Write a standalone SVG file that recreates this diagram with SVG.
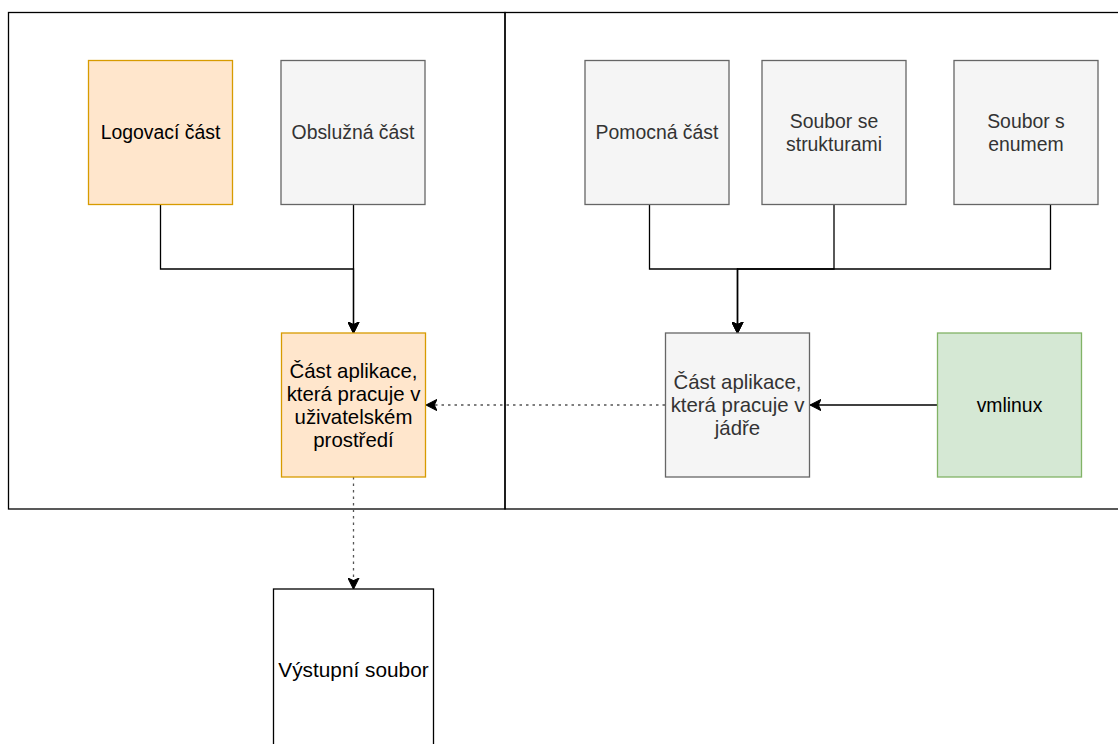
<svg xmlns="http://www.w3.org/2000/svg" width="1118" height="744" viewBox="0 0 1118 744">
  <defs>
    <marker id="arrow" markerUnits="userSpaceOnUse" markerWidth="12" markerHeight="12" viewBox="0 0 11 11" refX="10.5" refY="5.5" orient="auto">
      <path d="M0.5,0.5 L10.5,5.5 L0.5,10.5 L3,5.5 Z" fill="#000" stroke="#000" stroke-width="1"/>
    </marker>
  </defs>
  <style>
    .frame { fill: none; stroke: #000; stroke-width: 1.3; }
    .box { stroke-width: 1.3; }
    .orange { fill: #ffe6cc; stroke: #d79b00; }
    .gray { fill: #f5f5f5; stroke: #666666; }
    .green { fill: #d5e8d4; stroke: #82b366; }
    .plain { fill: #ffffff; stroke: #000000; }
    text { font-family: "Liberation Sans", Arial, Helvetica, sans-serif; font-size: 19.4px; text-anchor: middle; }
    .multi { font-size: 20.4px; }
    .wide { font-size: 20.8px; }
    .dark { fill: #000; }
    .muted { fill: #333333; }
    .edge { fill: none; stroke: #000; stroke-width: 1.3; marker-end: url(#arrow); }
    .dotted { fill: none; stroke: #555; stroke-width: 1.3; stroke-dasharray: 2.5 4; marker-end: url(#arrow); }
  </style>

  <!-- user-space and kernel-space frames -->
  <g id="frames">
    <rect class="frame" x="8.5" y="12.5" width="496.5" height="496.5"/>
    <rect class="frame" x="505" y="12.5" width="700" height="496.5"/>
  </g>

  <!-- connectors -->
  <g id="connectors">
    <path class="edge" d="M160.5,204.5 V269 H353.5 V333"/>
    <path class="edge" d="M353.5,204.5 V333"/>
    <path class="edge" d="M649.5,204.5 V269 H737.5 V333"/>
    <path class="edge" d="M834,204.5 V269 H737.5 V333"/>
    <path class="edge" d="M1050.5,204.5 V269 H737.5 V333"/>
    <path class="edge" d="M937,405 H810"/>
    <path class="dotted" d="M665,405 H426"/>
    <path class="dotted" d="M353.5,477 V589"/>
  </g>

  <g id="logging">
    <rect class="box orange" x="88.5" y="60.5" width="144" height="144"/>
    <text class="dark" x="160.5" y="139.3">Logovací část</text>
  </g>

  <g id="service">
    <rect class="box gray" x="281" y="60.5" width="144" height="144"/>
    <text class="muted" x="353" y="139.3">Obslužná část</text>
  </g>

  <g id="helper">
    <rect class="box gray" x="585" y="60.5" width="144" height="144"/>
    <text class="muted" x="657" y="139.3">Pomocná část</text>
  </g>

  <g id="structs">
    <rect class="box gray" x="762" y="60.5" width="144" height="144"/>
    <text class="muted" x="834" y="127.8">Soubor se</text>
    <text class="muted" x="834" y="150.8">strukturami</text>
  </g>

  <g id="enums">
    <rect class="box gray" x="954" y="60.5" width="144" height="144"/>
    <text class="muted" x="1026" y="127.8">Soubor s</text>
    <text class="muted" x="1026" y="150.8">enumem</text>
  </g>

  <g id="userspace">
    <rect class="box orange" x="281.5" y="333" width="144" height="144"/>
    <text class="dark multi" x="353.5" y="377.5">Část aplikace,</text>
    <text class="dark multi" x="353.5" y="400.5">která pracuje v</text>
    <text class="dark multi" x="353.5" y="423.5">uživatelském</text>
    <text class="dark multi" x="353.5" y="446.5">prostředí</text>
  </g>

  <g id="kernel">
    <rect class="box gray" x="665.5" y="333" width="144" height="144"/>
    <text class="muted multi" x="737.5" y="389">Část aplikace,</text>
    <text class="muted multi" x="737.5" y="412">která pracuje v</text>
    <text class="muted multi" x="737.5" y="435">jádře</text>
  </g>

  <g id="vmlinux">
    <rect class="box green" x="937.5" y="333" width="144" height="144"/>
    <text class="dark" x="1009.5" y="411.8">vmlinux</text>
  </g>

  <g id="output">
    <rect class="box plain" x="273.5" y="589" width="160" height="180"/>
    <text class="dark wide" x="353.5" y="677">Výstupní soubor</text>
  </g>
</svg>
